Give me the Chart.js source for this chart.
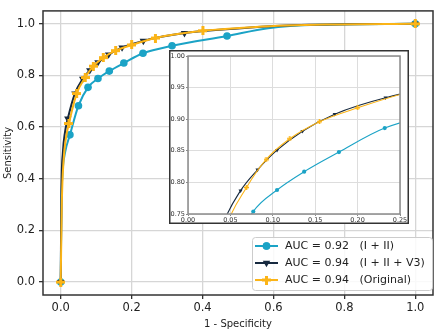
<!DOCTYPE html>
<html>
<head>
<meta charset="utf-8">
<script src="https://cdn.jsdelivr.net/npm/chart.js@4"></script>
<style>
  html, body { margin: 0; padding: 0; background: #fff; }
  #wrap { position: relative; width: 440px; height: 330px; }
  #main { position: absolute; left: 0; top: 0; }
  #inset { position: absolute; left: 169px; top: 50px; }
</style>
</head>
<body>
<div id="wrap">
  <canvas id="main" width="440" height="330"></canvas>
  <canvas id="inset" width="240" height="174"></canvas>
</div>
<script>
// ROC curves (x = 1 - specificity, y = sensitivity)
const labels = ['AUC = 0.92   (I + II)', 'AUC = 0.94   (I + II + V3)', 'AUC = 0.94   (Original)'];

const fprA = [0, 0.002, 0.005, 0.012, 0.026, 0.05, 0.077, 0.105, 0.137, 0.178, 0.232, 0.314, 0.469, 0.585, 0.725, 1.0];
const tprA = [0, 0.30, 0.42, 0.50, 0.57, 0.683, 0.754, 0.788, 0.817, 0.848, 0.886, 0.915, 0.953, 0.983, 0.996, 1.0];
const marksA = [0, 4, 5, 6, 7, 8, 9, 10, 11, 12, 15];

const fprB = [0, 0.002, 0.006, 0.012, 0.02, 0.04, 0.062, 0.082, 0.105, 0.135, 0.173, 0.233, 0.349, 0.5, 0.7, 1.0];
const tprB = [0, 0.35, 0.50, 0.58, 0.633, 0.73, 0.787, 0.820, 0.851, 0.881, 0.908, 0.934, 0.964, 0.982, 0.996, 1.0];
const marksB = [0, 4, 5, 6, 7, 8, 9, 10, 11, 12, 15];

const fprC = [0, 0.003, 0.008, 0.015, 0.023, 0.045, 0.069, 0.092, 0.12, 0.155, 0.20, 0.267, 0.401, 0.55, 0.75, 1.0];
const tprC = [0, 0.30, 0.47, 0.56, 0.614, 0.73, 0.792, 0.836, 0.869, 0.896, 0.918, 0.945, 0.973, 0.988, 0.997, 1.0];
const marksC = [0, 4, 5, 6, 7, 8, 9, 10, 11, 12, 15];

const mainTicks = [0, 0.2, 0.4, 0.6, 0.8, 1.0];
const insetXTicks = [0, 0.05, 0.10, 0.15, 0.20, 0.25];
const insetYTicks = [0.75, 0.80, 0.85, 0.90, 0.95, 1.00];

const colors = ['#1ba3c6', '#16293f', '#fbb417'];
const FONT = 'DejaVu Sans';

function pts(xs, ys) { return xs.map((x, i) => ({ x: x, y: ys[i] })); }

// filled "plus" marker like matplotlib 'P'
function plusMarker(size, color) {
    const c = document.createElement('canvas');
    c.width = size; c.height = size;
    const g = c.getContext('2d');
    const t = size / 3;
    g.fillStyle = color;
    g.fillRect(t, 0, t, size);
    g.fillRect(0, t, size, t);
    return c;
}

function makeDatasets(scale) {
    const series = [
        { xs: fprA, ys: tprA, marks: marksA, style: 'circle', r: 3.8, rot: 0 },
        { xs: fprB, ys: tprB, marks: marksB, style: 'triangle', r: 4.3, rot: 180 },
        { xs: fprC, ys: tprC, marks: marksC, style: 'plus', r: 4, rot: 0 }
    ];
    return series.map((s, i) => {
        const r = s.r * scale;
        const ps = s.style === 'plus' ? plusMarker(Math.round(9 * scale), colors[i]) : s.style;
        return {
            label: labels[i],
            data: pts(s.xs, s.ys),
            borderColor: colors[i],
            backgroundColor: colors[i],
            borderWidth: 2 * scale,
            pointStyle: ps,
            pointRotation: s.rot,
            pointBorderWidth: 0,
            pointRadius: ctx => s.marks.includes(ctx.dataIndex) ? r : 0,
            cubicInterpolationMode: 'monotone',
            order: 3 - i
        };
    });
}

const framePlugin = {
    id: 'frame',
    beforeDraw(chart, args, opts) {
        const ctx = chart.ctx;
        if (opts.bg) {
            ctx.save();
            ctx.fillStyle = '#fff';
            ctx.fillRect(0, 0, chart.width, chart.height);
            ctx.strokeStyle = opts.outer;
            ctx.lineWidth = 1.5;
            ctx.strokeRect(0.75, 0.75, chart.width - 1.5, chart.height - 1.5);
            ctx.restore();
        }
    },
    afterDatasetsDraw(chart, args, opts) {
        const a = chart.chartArea;
        const ctx = chart.ctx;
        ctx.save();
        ctx.strokeStyle = opts.color;
        ctx.lineWidth = opts.width;
        ctx.strokeRect(a.left, a.top, a.right - a.left, a.bottom - a.top);
        ctx.restore();
    }
};

const legendPlugin = {
    id: 'roclegend',
    afterDraw(chart) {
        const ctx = chart.ctx;
        const x0 = 252, y0 = 237, w = 180, h = 53;
        ctx.save();
        ctx.fillStyle = 'rgba(255,255,255,0.85)';
        ctx.strokeStyle = '#cccccc';
        ctx.lineWidth = 1;
        ctx.beginPath();
        ctx.roundRect(x0 + 0.5, y0 + 0.5, w, h, 3);
        ctx.fill();
        ctx.stroke();
        chart.data.datasets.forEach((ds, i) => {
            const y = 246 + i * 17;
            ctx.strokeStyle = ds.borderColor;
            ctx.lineWidth = 2;
            ctx.beginPath();
            ctx.moveTo(255, y);
            ctx.lineTo(278, y);
            ctx.stroke();
            ctx.fillStyle = ds.backgroundColor;
            Chart.helpers.drawPoint(ctx, {
                pointStyle: ds.pointStyle,
                rotation: ds.pointRotation,
                radius: i === 1 ? 4.3 : 3.8,
                borderWidth: 0
            }, 266.5, y);
            if (i === 0) { ctx.beginPath(); ctx.arc(266.5, y, 3.8, 0, Math.PI * 2); ctx.fill(); }
            ctx.fillStyle = '#222';
            ctx.font = '11px "' + FONT + '"';
            ctx.textBaseline = 'middle';
            ctx.fillText(ds.label, 285, y + 0.5);
        });
        ctx.restore();
    }
};

function fixedTicks(list) {
    return scale => { scale.ticks = list.map(v => ({ value: v })); };
}

new Chart(document.getElementById('main'), {
    type: 'line',
    data: { datasets: makeDatasets(1) },
    plugins: [framePlugin, legendPlugin],
    options: {
        responsive: false,
        animation: false,
        events: [],
        layout: { padding: { left: 0, top: 3, right: 7, bottom: 0 } },
        plugins: {
            legend: { display: false },
            tooltip: { enabled: false },
            frame: { color: '#333', width: 1.5 }
        },
        scales: {
            x: {
                type: 'linear', min: -0.05, max: 1.05,
                afterBuildTicks: fixedTicks(mainTicks),
                afterFit: s => { s.height = 35; },
                grid: { color: '#d6d6d6', lineWidth: 1.3, tickColor: '#333', tickLength: 4 },
                border: { display: false },
                ticks: { color: '#222', font: { family: FONT, size: 11.5 }, padding: 2, maxRotation: 0, autoSkip: false,
                    callback: v => v.toFixed(1) },
                title: { display: true, text: '1 - Specificity', color: '#222', font: { family: FONT, size: 10 }, padding: { top: 1, bottom: 0 } }
            },
            y: {
                type: 'linear', min: -0.05, max: 1.05,
                afterBuildTicks: fixedTicks(mainTicks),
                afterFit: s => { s.width = 43; },
                grid: { color: '#d6d6d6', lineWidth: 1.3, tickColor: '#333', tickLength: 4 },
                border: { display: false },
                ticks: { color: '#222', font: { family: FONT, size: 11.5 }, padding: 4, autoSkip: false,
                    callback: v => v.toFixed(1) },
                title: { display: true, text: 'Sensitivity', color: '#222', font: { family: FONT, size: 10 }, padding: { top: 2, bottom: 0 } }
            }
        }
    }
});

new Chart(document.getElementById('inset'), {
    type: 'line',
    data: { datasets: makeDatasets(0.55) },
    plugins: [framePlugin],
    options: {
        responsive: false,
        animation: false,
        events: [],
        layout: { padding: { left: 0, top: 6, right: 9, bottom: 0 } },
        plugins: {
            legend: { display: false },
            tooltip: { enabled: false },
            frame: { color: '#8a8a8a', width: 1.5, bg: true, outer: '#333' }
        },
        scales: {
            x: {
                type: 'linear', min: 0, max: 0.25,
                afterBuildTicks: fixedTicks(insetXTicks),
                afterFit: s => { s.height = 10; },
                grid: { color: '#dddddd', lineWidth: 1, tickColor: '#888', tickLength: 2 },
                border: { display: false },
                ticks: { color: '#333', font: { family: FONT, size: 6.5 }, padding: 0, maxRotation: 0, autoSkip: false,
                    callback: v => v.toFixed(2) }
            },
            y: {
                type: 'linear', min: 0.75, max: 1.0,
                afterBuildTicks: fixedTicks(insetYTicks),
                afterFit: s => { s.width = 19; },
                grid: { color: '#dddddd', lineWidth: 1, tickColor: '#888', tickLength: 2 },
                border: { display: false },
                ticks: { color: '#333', font: { family: FONT, size: 6.5 }, padding: 1, autoSkip: false,
                    callback: v => v.toFixed(2) }
            }
        }
    }
});
</script>
</body>
</html>
